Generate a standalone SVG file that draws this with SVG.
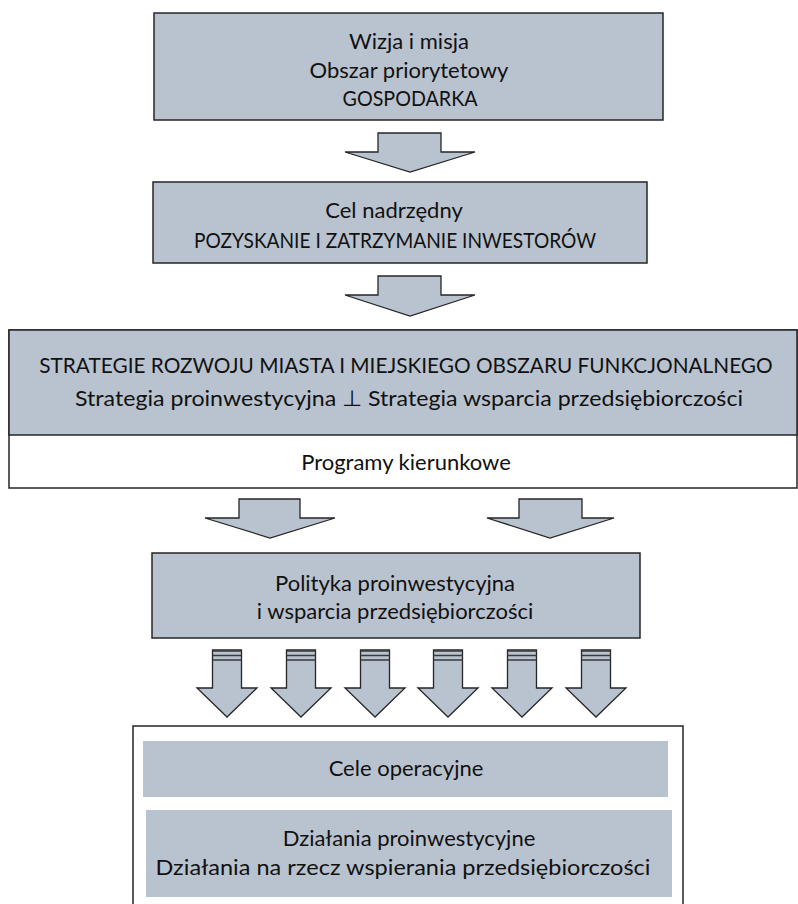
<svg xmlns="http://www.w3.org/2000/svg" width="798" height="904" viewBox="0 0 798 904">
<style>
.box{fill:#b9c3cf;stroke:#262626;stroke-width:1.5}
.wbox{fill:#ffffff;stroke:#262626;stroke-width:1.5}
.inner{fill:#b9c3cf;stroke:none}
.arr{fill:#b9c3cf;stroke:#262626;stroke-width:1.3;stroke-linejoin:miter}
.band{stroke:#3a3a3a;stroke-width:1.6}
text{font-family:Lato,"Liberation Sans",sans-serif;font-size:22px;fill:#111;text-anchor:middle}
.caps{font-size:21px}
</style>
<rect width="798" height="904" fill="#ffffff"/>
<g id="wizja">
<rect class="box" x="154" y="13" width="509" height="107"/>
<text x="409" y="49">Wizja i misja</text>
<text x="409" y="78">Obszar priorytetowy</text>
<text class="caps" x="410" y="106" textLength="135" lengthAdjust="spacingAndGlyphs">GOSPODARKA</text>
</g>
<g id="cel">
<rect class="box" x="153" y="182" width="494" height="81"/>
<text x="394" y="218">Cel nadrzędny</text>
<text class="caps" x="395" y="248" textLength="402" lengthAdjust="spacingAndGlyphs">POZYSKANIE I ZATRZYMANIE INWESTORÓW</text>
</g>
<g id="strategie">
<rect class="wbox" x="9" y="330" width="788" height="158"/>
<rect class="box" x="9" y="330" width="788" height="105"/>
<text x="406" y="373" style="font-size:20.8px">STRATEGIE ROZWOJU MIASTA I MIEJSKIEGO OBSZARU FUNKCJONALNEGO</text>
<text x="409" y="406" textLength="668" lengthAdjust="spacingAndGlyphs">Strategia proinwestycyjna ⊥ Strategia wsparcia przedsiębiorczości</text>
<text x="406" y="470">Programy kierunkowe</text>
</g>
<g id="polityka">
<rect class="box" x="152" y="553" width="488" height="85"/>
<text x="395" y="591">Polityka proinwestycyjna</text>
<text x="395" y="619">i wsparcia przedsiębiorczości</text>
</g>
<g id="dzialania">
<rect class="wbox" x="133" y="726" width="550" height="190"/>
<rect class="inner" x="143" y="741" width="525" height="56"/>
<text x="406" y="776">Cele operacyjne</text>
<rect class="inner" x="146" y="810" width="526" height="87"/>
<text x="409" y="846">Działania proinwestycyjne</text>
<text x="403" y="875" textLength="495" lengthAdjust="spacingAndGlyphs">Działania na rzecz wspierania przedsiębiorczości</text>
</g>
<g id="connectors">
<polygon class="arr" points="378,133 441,133 441,152 475,152 410,172 345,152 378,152"/>
<polygon class="arr" points="378,276 441,276 441,295 475,295 410,316 345,295 378,295"/>
<polygon class="arr" points="239,499 300,499 300,518 335,518 270,538 205,518 239,518"/>
<polygon class="arr" points="519,499 582,499 582,518 614,518 550,538 487,518 519,518"/>
<g id="small-arrows">
<g transform="translate(227,0)">
<polygon class="arr" points="-14.5,650 14.5,650 14.5,688 30,688 0,717 -30,688 -14.5,688"/>
<path class="band" d="M-14.5,651H14.5M-14.5,655.5H14.5M-14.5,660H14.5"/>
</g>
<g transform="translate(301,0)">
<polygon class="arr" points="-14.5,650 14.5,650 14.5,688 30,688 0,717 -30,688 -14.5,688"/>
<path class="band" d="M-14.5,651H14.5M-14.5,655.5H14.5M-14.5,660H14.5"/>
</g>
<g transform="translate(375,0)">
<polygon class="arr" points="-14.5,650 14.5,650 14.5,688 30,688 0,717 -30,688 -14.5,688"/>
<path class="band" d="M-14.5,651H14.5M-14.5,655.5H14.5M-14.5,660H14.5"/>
</g>
<g transform="translate(448,0)">
<polygon class="arr" points="-14.5,650 14.5,650 14.5,688 30,688 0,717 -30,688 -14.5,688"/>
<path class="band" d="M-14.5,651H14.5M-14.5,655.5H14.5M-14.5,660H14.5"/>
</g>
<g transform="translate(522,0)">
<polygon class="arr" points="-14.5,650 14.5,650 14.5,688 30,688 0,717 -30,688 -14.5,688"/>
<path class="band" d="M-14.5,651H14.5M-14.5,655.5H14.5M-14.5,660H14.5"/>
</g>
<g transform="translate(596,0)">
<polygon class="arr" points="-14.5,650 14.5,650 14.5,688 30,688 0,717 -30,688 -14.5,688"/>
<path class="band" d="M-14.5,651H14.5M-14.5,655.5H14.5M-14.5,660H14.5"/>
</g>
</g>
</g>
</svg>
